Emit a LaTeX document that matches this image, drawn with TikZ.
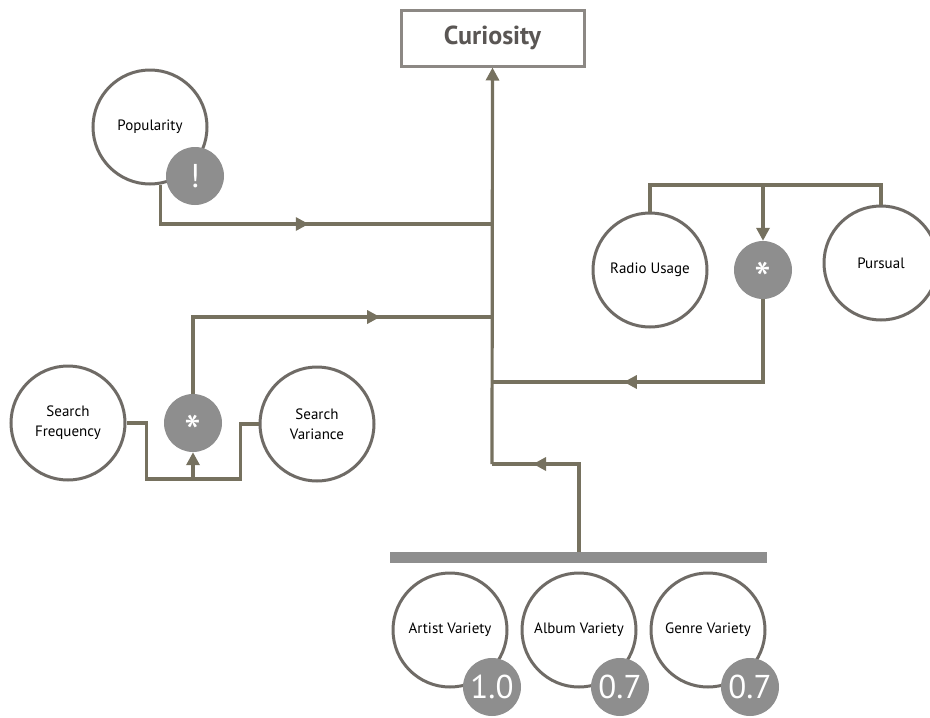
\documentclass[tikz,border=0pt]{standalone}
\usepackage{fontspec}
\setmainfont{PT Sans}
\usetikzlibrary{arrows.meta,decorations.markings}
\definecolor{wire}{HTML}{76715F}
\definecolor{ring}{HTML}{6F6B66}
\definecolor{boxline}{HTML}{8C8884}
\definecolor{badgefill}{HTML}{8E8E8E}
\definecolor{titletext}{HTML}{5A5654}
\newcommand{\opstar}{\raisebox{-26.5pt}[0pt][0pt]{*}}
\begin{document}
\begin{tikzpicture}[x=1pt,y=-1pt,
  factor/.style={circle,draw=ring,line width=3pt,fill=white,minimum size=114pt,inner sep=0pt,align=center,font=\fontsize{15}{20}\selectfont},
  badge/.style={circle,fill=badgefill,minimum size=58pt,inner sep=0pt,text=white,font=\fontsize{33}{33}\selectfont},
  opnode/.style={circle,fill=badgefill,minimum size=58pt,inner sep=0pt,text=white,font=\fontsize{48}{48}\selectfont},
  wireline/.style={draw=wire,line width=3.2pt},
  tip/.style={-{Triangle[width=13pt,length=13pt]}},
  midarrow/.style={postaction=decorate,decoration={markings,mark=at position #1 with {\arrow{Triangle[width=13pt,length=13pt]}}}}]
\useasboundingbox (0,0) rectangle (930,718);

% target box
\node[draw=boxline,line width=3pt,minimum width=183pt,minimum height=56pt,text=titletext,font=\bfseries\fontsize{26}{28}\selectfont] (cur) at (492.5,38) {Curiosity};

% factors
\node[factor] (pop) at (150,127) {Popularity};
\node[badge] (popb) at (195,176) {!};

\node[factor] (radio) at (650,270) {Radio Usage};
\node[opnode] (star1) at (763,270) {\opstar};
\node[factor] (purs) at (881,263) {Pursual};

\node[factor] (sf) at (68,423) {Search\\Frequency};
\node[opnode] (star2) at (193,423) {\opstar};
\node[factor] (sv) at (317,424) {Search\\Variance};

\node[fill=badgefill,minimum width=377pt,minimum height=11pt,inner sep=0pt] (bar) at (578.5,557.5) {};
\node[factor] (artist) at (450,630) {Artist Variety};
\node[factor] (album) at (579,630) {Album Variety};
\node[factor] (genre) at (708,630) {Genre Variety};
\node[badge] (ab) at (492,687) {1.0};
\node[badge] (alb) at (620,687) {0.7};
\node[badge] (gb) at (750,687) {0.7};

% junctions on the trunk
\coordinate (j1) at (492,224);
\coordinate (j2) at (492,317);
\coordinate (j3) at (492,382);
\coordinate (jb) at (492,464);
\coordinate (top) at (763,185);
\coordinate (bj) at (193,479);
\coordinate (bt) at (579,552);

% trunk
\draw[wireline,tip] (jb) -- (cur.south);

% popularity branch
\draw[wireline,midarrow=188pt] (pop.-80) |- (j1);

% radio usage * pursual
\draw[wireline] (radio.north) |- (top) -| (purs.north);
\draw[wireline,tip] (top) -- (star1.north);
\draw[wireline,midarrow=222pt] (star1.south) |- (j3);

% search frequency * search variance
\draw[wireline] (sf.east) -- ++(20,0) |- (bj) -| ([xshift=-18pt]sv.west) -- (sv.west);
\draw[wireline,tip] (bj) -- (star2.south);
\draw[wireline,midarrow=264pt] (star2.north) |- (j2);

% variety group
\draw[wireline,midarrow=134pt] (bt) |- (jb);
\end{tikzpicture}
\end{document}
